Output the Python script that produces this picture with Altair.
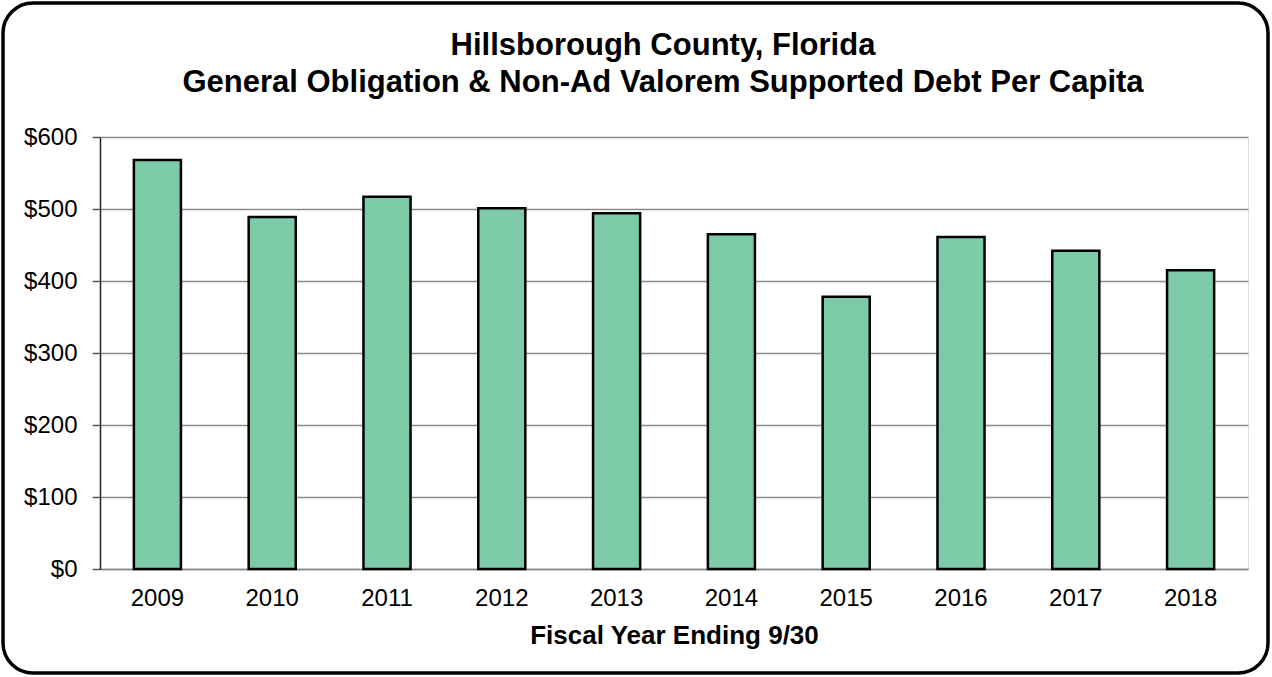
import altair as alt
import pandas as pd

years = ["2009", "2010", "2011", "2012", "2013", "2014", "2015", "2016", "2017", "2018"]
debt_per_capita = [568, 489, 517, 501, 494, 465, 378, 461, 442, 415]
y_ticks = [0, 100, 200, 300, 400, 500, 600]
title_line1 = "Hillsborough County, Florida"
title_line2 = "General Obligation & Non-Ad Valorem Supported Debt Per Capita"

df = pd.DataFrame({"year": years, "value": debt_per_capita})

FONT = "Liberation Sans"

bars = alt.Chart(df).mark_bar(
    color="#7DCAA8", stroke="#000000", strokeWidth=2.5
).encode(
    x=alt.X("year:N", sort=years,
            scale=alt.Scale(paddingInner=0.59, paddingOuter=0.295),
            axis=alt.Axis(title="Fiscal Year Ending 9/30", labelAngle=0,
                          ticks=False, labelPadding=17, titlePadding=12,
                          domainColor="#888888", domainWidth=1.5,
                          labelFontSize=24, titleFontSize=26,
                          labelFont=FONT, titleFont=FONT,
                          labelColor="#000000", titleColor="#000000",
                          titleFontWeight="bold")),
    y=alt.Y("value:Q",
            scale=alt.Scale(domain=[0, 600], nice=False),
            axis=alt.Axis(title=None, values=y_ticks, format="$,.0f",
                          tickSize=8, tickColor="#555555", tickWidth=1.5,
                          labelPadding=15, labelFontSize=24, labelFont=FONT,
                          labelColor="#000000",
                          domainColor="#222222", domainWidth=1.5,
                          grid=True, gridColor="#8a8a8a", gridWidth=1.5)),
)

one = alt.Data(values=[{"a": 1}])

frame = alt.Chart(one).mark_rect(
    fill=None, stroke="#000000", strokeWidth=3.5, cornerRadius=30
).encode(
    x=alt.value(-97), x2=alt.value(1168),
    y=alt.value(-134), y2=alt.value(536),
)

t1 = alt.Chart(one).mark_text(
    font=FONT, fontSize=31, fontWeight="bold", color="#000000",
    align="center", baseline="alphabetic"
).encode(x=alt.value(563), y=alt.value(-82), text=alt.value(title_line1))

t2 = alt.Chart(one).mark_text(
    font=FONT, fontSize=31, fontWeight="bold", color="#000000",
    align="center", baseline="alphabetic"
).encode(x=alt.value(563), y=alt.value(-45), text=alt.value(title_line2))

chart = alt.layer(bars, frame, t1, t2).properties(
    width=1148,
    height=432,
    autosize=alt.AutoSizeParams(type="none"),
    padding={"left": 100, "top": 137, "right": 24, "bottom": 108},
).configure_view(
    stroke="#8a8a8a", strokeWidth=1.5
).configure(background="#ffffff")

chart.save("out.html", embed_options={"renderer": "svg", "actions": False})
